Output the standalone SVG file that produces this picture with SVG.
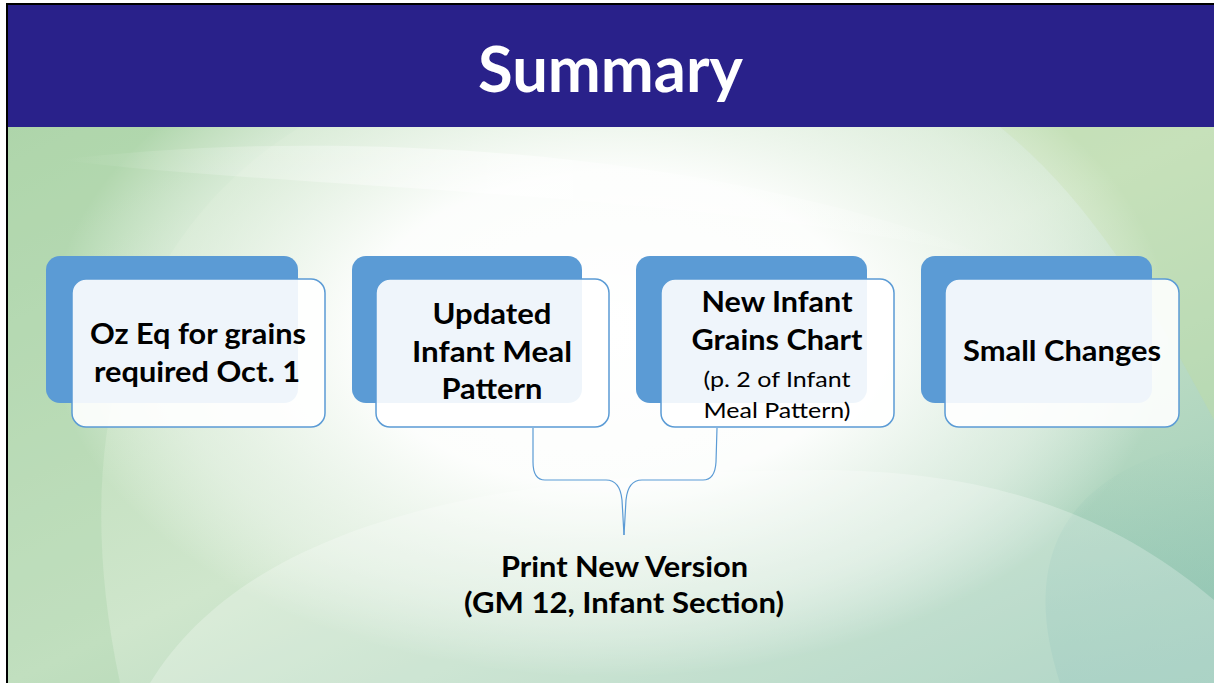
<svg xmlns="http://www.w3.org/2000/svg" width="1214" height="683" viewBox="0 0 1214 683">
<defs>
<linearGradient id="bgBase" x1="0" y1="0" x2="1" y2="1">
<stop offset="0" stop-color="#b3d8ad"/>
<stop offset="0.5" stop-color="#cfe6cc"/>
<stop offset="1" stop-color="#96c8b4"/>
</linearGradient>
<radialGradient id="glow" cx="610" cy="330" r="560" gradientUnits="userSpaceOnUse" gradientTransform="translate(610 330) scale(1 0.62) translate(-610 -330)">
<stop offset="0" stop-color="#ffffff" stop-opacity="1"/>
<stop offset="0.45" stop-color="#ffffff" stop-opacity="0.95"/>
<stop offset="0.8" stop-color="#f4f9f4" stop-opacity="0.55"/>
<stop offset="1" stop-color="#ffffff" stop-opacity="0"/>
</radialGradient>
<linearGradient id="swoosh" x1="0" y1="0" x2="1" y2="0">
<stop offset="0" stop-color="#ffffff" stop-opacity="0"/>
<stop offset="0.5" stop-color="#ffffff" stop-opacity="0.55"/>
<stop offset="1" stop-color="#ffffff" stop-opacity="0"/>
</linearGradient>
<linearGradient id="teal" x1="0" y1="0" x2="0" y2="1">
<stop offset="0" stop-color="#8fc3b3" stop-opacity="0"/>
<stop offset="1" stop-color="#8cc2b2" stop-opacity="0.7"/>
</linearGradient>
</defs>
<style>
.back{fill:#5b9bd5;}
.front{fill:#ffffff;fill-opacity:0.9;stroke:#5b9bd5;stroke-width:1.5;}
.t{font-family:Lato,"Open Sans","Liberation Sans",sans-serif;font-weight:bold;font-size:28px;fill:#000;text-anchor:middle;}
.s{font-family:Lato,"Open Sans","Liberation Sans",sans-serif;font-weight:normal;font-size:22px;fill:#000;text-anchor:middle;}
.conn{fill:none;stroke:#5b9bd5;stroke-width:1.2;}
</style>
<rect x="0" y="0" width="1214" height="683" fill="#ffffff"/>
<g id="background">
<rect x="8" y="127" width="1206" height="556" fill="url(#bgBase)"/>
<path d="M8 127 L300 127 C150 220 60 400 120 683 L8 683 Z" fill="#a6d1a6" fill-opacity="0.35"/>
<path d="M1000 127 L1214 127 L1214 420 C1150 300 1090 200 1000 127 Z" fill="#bddca8" fill-opacity="0.5"/>
<path d="M1060 683 C1020 560 1060 470 1214 440 L1214 683 Z" fill="url(#teal)"/>
<rect x="8" y="127" width="1206" height="556" fill="url(#glow)"/>
<path d="M150 683 C250 520 500 470 820 470 C1000 470 1120 520 1214 600 L1214 683 Z" fill="#ffffff" fill-opacity="0.25"/>
<path d="M60 160 C300 130 700 140 1000 260 C700 190 300 190 60 160 Z" fill="url(#swoosh)"/>
</g>
<g id="frame">
<line x1="7" y1="4" x2="7" y2="683" stroke="#000" stroke-width="2"/>
<line x1="6" y1="4" x2="1214" y2="4" stroke="#000" stroke-width="2"/>
</g>
<g id="title">
<rect x="8" y="5" width="1206" height="122" fill="#29218a"/>
<text x="610.5" y="92" font-family="Lato,'Open Sans','Liberation Sans',sans-serif" font-weight="bold" font-size="64" fill="#ffffff" text-anchor="middle" textLength="265" lengthAdjust="spacingAndGlyphs">Summary</text>
</g>
<g id="connectors">
<path class="conn" d="M533 428 L533 462 Q533 480 545 480 L606 480 Q620 480 622 500 L624 535"/>
<path class="conn" d="M717 428 L716 462 Q715 480 703 480 L642 480 Q628 480 626 500 L624 535"/>
</g>
<g id="node1">
<rect class="back" x="46" y="256" width="252" height="147" rx="14"/>
<rect class="front" x="72" y="279" width="253" height="148" rx="14"/>
<text class="t" x="198" y="344" textLength="216" lengthAdjust="spacingAndGlyphs">Oz Eq for grains</text>
<text class="t" x="197" y="382" textLength="206" lengthAdjust="spacingAndGlyphs">required Oct. 1</text>
</g>
<g id="node2">
<rect class="back" x="352" y="256" width="230" height="147" rx="14"/>
<rect class="front" x="376" y="279" width="233" height="148" rx="14"/>
<text class="t" x="492" y="324" textLength="119" lengthAdjust="spacingAndGlyphs">Updated</text>
<text class="t" x="492" y="362" textLength="160" lengthAdjust="spacingAndGlyphs">Infant Meal</text>
<text class="t" x="492" y="399" textLength="101" lengthAdjust="spacingAndGlyphs">Pattern</text>
</g>
<g id="node3">
<rect class="back" x="636" y="256" width="231" height="147" rx="14"/>
<rect class="front" x="661" y="279" width="233" height="148" rx="14"/>
<text class="t" x="777" y="312" textLength="151" lengthAdjust="spacingAndGlyphs">New Infant</text>
<text class="t" x="777" y="350" textLength="171" lengthAdjust="spacingAndGlyphs">Grains Chart</text>
<text class="s" x="777" y="387" textLength="147" lengthAdjust="spacingAndGlyphs">(p. 2 of Infant</text>
<text class="s" x="777" y="418" textLength="147" lengthAdjust="spacingAndGlyphs">Meal Pattern)</text>
</g>
<g id="node4">
<rect class="back" x="921" y="256" width="231" height="147" rx="14"/>
<rect class="front" x="945" y="279" width="234" height="148" rx="14"/>
<text class="t" x="1062" y="361" textLength="198" lengthAdjust="spacingAndGlyphs">Small Changes</text>
</g>
<g id="bottomLabel">
<text class="t" x="624.5" y="577" textLength="247" lengthAdjust="spacingAndGlyphs">Print New Version</text>
<text class="t" x="624" y="613" textLength="320" lengthAdjust="spacingAndGlyphs">(GM 12, Infant Section)</text>
</g>
</svg>
